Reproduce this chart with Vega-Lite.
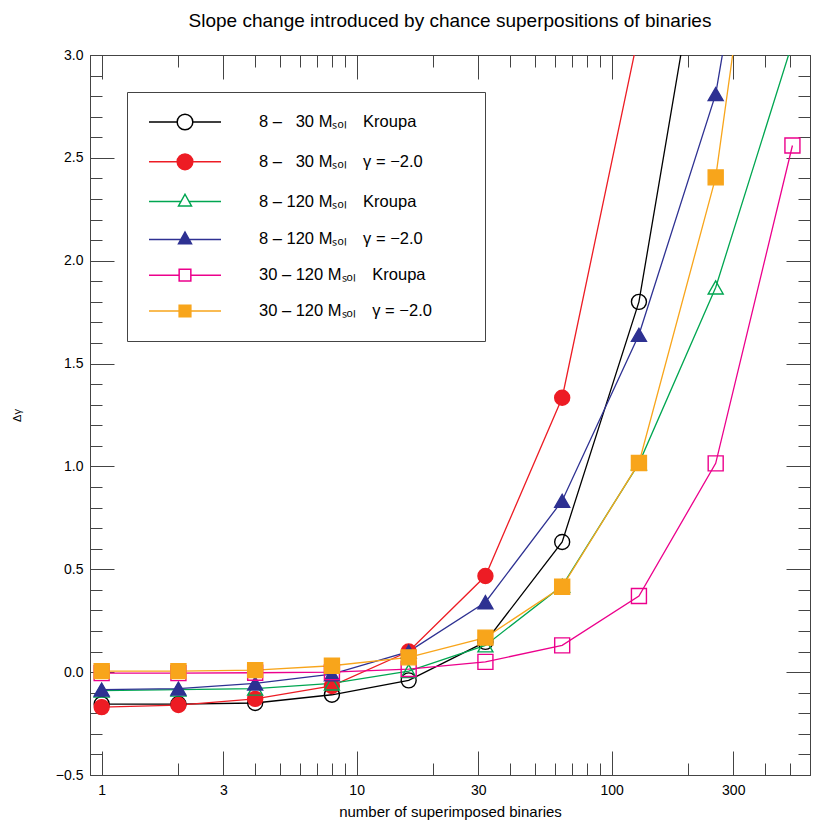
{
  "$schema": "https://vega.github.io/schema/vega-lite/v6.json",
  "width": 720,
  "height": 720,
  "autosize": "none",
  "padding": {"left": 90, "top": 55, "right": 20, "bottom": 55},
  "title": {"text": "Slope change introduced by chance superpositions of binaries", "font": "Liberation Sans", "fontSize": 19, "fontWeight": "normal", "color": "#000", "anchor": "middle", "frame": "group", "baseline": "alphabetic", "offset": 2},
  "config": {
    "view": {"stroke": null},
    "font": "Liberation Sans",
    "axis": {"domainColor": "#444", "tickColor": "#444", "labelColor": "#000", "titleColor": "#000", "grid": false, "labelFont": "Liberation Sans", "titleFont": "Liberation Sans", "titleFontWeight": "normal", "labelFlush": false, "labelOverlap": false, "tickWidth": 1, "domainWidth": 1}
  },
  "datasets": {
    "rows": [
      {"n": 1, "series": "\u20078 \u2013 \u200730 M\u209b\u2092\u2097\u2003Kroupa", "dg": -0.155},
      {"n": 2, "series": "\u20078 \u2013 \u200730 M\u209b\u2092\u2097\u2003Kroupa", "dg": -0.155},
      {"n": 4, "series": "\u20078 \u2013 \u200730 M\u209b\u2092\u2097\u2003Kroupa", "dg": -0.15},
      {"n": 8, "series": "\u20078 \u2013 \u200730 M\u209b\u2092\u2097\u2003Kroupa", "dg": -0.11},
      {"n": 16, "series": "\u20078 \u2013 \u200730 M\u209b\u2092\u2097\u2003Kroupa", "dg": -0.04},
      {"n": 32, "series": "\u20078 \u2013 \u200730 M\u209b\u2092\u2097\u2003Kroupa", "dg": 0.147},
      {"n": 64, "series": "\u20078 \u2013 \u200730 M\u209b\u2092\u2097\u2003Kroupa", "dg": 0.633},
      {"n": 128, "series": "\u20078 \u2013 \u200730 M\u209b\u2092\u2097\u2003Kroupa", "dg": 1.80},
      {"n": 256, "series": "\u20078 \u2013 \u200730 M\u209b\u2092\u2097\u2003Kroupa", "dg": 4.0},
      {"n": 1, "series": "\u20078 \u2013 \u200730 M\u209b\u2092\u2097\u2003\u03b3 = \u22122.0", "dg": -0.17},
      {"n": 2, "series": "\u20078 \u2013 \u200730 M\u209b\u2092\u2097\u2003\u03b3 = \u22122.0", "dg": -0.16},
      {"n": 4, "series": "\u20078 \u2013 \u200730 M\u209b\u2092\u2097\u2003\u03b3 = \u22122.0", "dg": -0.13},
      {"n": 8, "series": "\u20078 \u2013 \u200730 M\u209b\u2092\u2097\u2003\u03b3 = \u22122.0", "dg": -0.067},
      {"n": 16, "series": "\u20078 \u2013 \u200730 M\u209b\u2092\u2097\u2003\u03b3 = \u22122.0", "dg": 0.10},
      {"n": 32, "series": "\u20078 \u2013 \u200730 M\u209b\u2092\u2097\u2003\u03b3 = \u22122.0", "dg": 0.467},
      {"n": 64, "series": "\u20078 \u2013 \u200730 M\u209b\u2092\u2097\u2003\u03b3 = \u22122.0", "dg": 1.334},
      {"n": 128, "series": "\u20078 \u2013 \u200730 M\u209b\u2092\u2097\u2003\u03b3 = \u22122.0", "dg": 3.11},
      {"n": 1, "series": "\u20078 \u2013 120 M\u209b\u2092\u2097\u2003Kroupa", "dg": -0.09},
      {"n": 2, "series": "\u20078 \u2013 120 M\u209b\u2092\u2097\u2003Kroupa", "dg": -0.085},
      {"n": 4, "series": "\u20078 \u2013 120 M\u209b\u2092\u2097\u2003Kroupa", "dg": -0.08},
      {"n": 8, "series": "\u20078 \u2013 120 M\u209b\u2092\u2097\u2003Kroupa", "dg": -0.055},
      {"n": 16, "series": "\u20078 \u2013 120 M\u209b\u2092\u2097\u2003Kroupa", "dg": 0.005},
      {"n": 32, "series": "\u20078 \u2013 120 M\u209b\u2092\u2097\u2003Kroupa", "dg": 0.13},
      {"n": 64, "series": "\u20078 \u2013 120 M\u209b\u2092\u2097\u2003Kroupa", "dg": 0.42},
      {"n": 128, "series": "\u20078 \u2013 120 M\u209b\u2092\u2097\u2003Kroupa", "dg": 1.015},
      {"n": 256, "series": "\u20078 \u2013 120 M\u209b\u2092\u2097\u2003Kroupa", "dg": 1.87},
      {"n": 512, "series": "\u20078 \u2013 120 M\u209b\u2092\u2097\u2003Kroupa", "dg": 3.06},
      {"n": 1, "series": "\u20078 \u2013 120 M\u209b\u2092\u2097\u2003\u03b3 = \u22122.0", "dg": -0.085},
      {"n": 2, "series": "\u20078 \u2013 120 M\u209b\u2092\u2097\u2003\u03b3 = \u22122.0", "dg": -0.08},
      {"n": 4, "series": "\u20078 \u2013 120 M\u209b\u2092\u2097\u2003\u03b3 = \u22122.0", "dg": -0.055},
      {"n": 8, "series": "\u20078 \u2013 120 M\u209b\u2092\u2097\u2003\u03b3 = \u22122.0", "dg": -0.01},
      {"n": 16, "series": "\u20078 \u2013 120 M\u209b\u2092\u2097\u2003\u03b3 = \u22122.0", "dg": 0.10},
      {"n": 32, "series": "\u20078 \u2013 120 M\u209b\u2092\u2097\u2003\u03b3 = \u22122.0", "dg": 0.34},
      {"n": 64, "series": "\u20078 \u2013 120 M\u209b\u2092\u2097\u2003\u03b3 = \u22122.0", "dg": 0.833},
      {"n": 128, "series": "\u20078 \u2013 120 M\u209b\u2092\u2097\u2003\u03b3 = \u22122.0", "dg": 1.64},
      {"n": 256, "series": "\u20078 \u2013 120 M\u209b\u2092\u2097\u2003\u03b3 = \u22122.0", "dg": 2.81},
      {"n": 512, "series": "\u20078 \u2013 120 M\u209b\u2092\u2097\u2003\u03b3 = \u22122.0", "dg": 5.0},
      {"n": 1, "series": "30 \u2013 120 M\u209b\u2092\u2097\u2003Kroupa", "dg": -0.005},
      {"n": 2, "series": "30 \u2013 120 M\u209b\u2092\u2097\u2003Kroupa", "dg": -0.005},
      {"n": 4, "series": "30 \u2013 120 M\u209b\u2092\u2097\u2003Kroupa", "dg": -0.003},
      {"n": 8, "series": "30 \u2013 120 M\u209b\u2092\u2097\u2003Kroupa", "dg": 0.0},
      {"n": 16, "series": "30 \u2013 120 M\u209b\u2092\u2097\u2003Kroupa", "dg": 0.015},
      {"n": 32, "series": "30 \u2013 120 M\u209b\u2092\u2097\u2003Kroupa", "dg": 0.05},
      {"n": 64, "series": "30 \u2013 120 M\u209b\u2092\u2097\u2003Kroupa", "dg": 0.13},
      {"n": 128, "series": "30 \u2013 120 M\u209b\u2092\u2097\u2003Kroupa", "dg": 0.37},
      {"n": 256, "series": "30 \u2013 120 M\u209b\u2092\u2097\u2003Kroupa", "dg": 1.015},
      {"n": 512, "series": "30 \u2013 120 M\u209b\u2092\u2097\u2003Kroupa", "dg": 2.56},
      {"n": 1, "series": "30 \u2013 120 M\u209b\u2092\u2097\u2003\u03b3 = \u22122.0", "dg": 0.005},
      {"n": 2, "series": "30 \u2013 120 M\u209b\u2092\u2097\u2003\u03b3 = \u22122.0", "dg": 0.005},
      {"n": 4, "series": "30 \u2013 120 M\u209b\u2092\u2097\u2003\u03b3 = \u22122.0", "dg": 0.01},
      {"n": 8, "series": "30 \u2013 120 M\u209b\u2092\u2097\u2003\u03b3 = \u22122.0", "dg": 0.031},
      {"n": 16, "series": "30 \u2013 120 M\u209b\u2092\u2097\u2003\u03b3 = \u22122.0", "dg": 0.072},
      {"n": 32, "series": "30 \u2013 120 M\u209b\u2092\u2097\u2003\u03b3 = \u22122.0", "dg": 0.168},
      {"n": 64, "series": "30 \u2013 120 M\u209b\u2092\u2097\u2003\u03b3 = \u22122.0", "dg": 0.415},
      {"n": 128, "series": "30 \u2013 120 M\u209b\u2092\u2097\u2003\u03b3 = \u22122.0", "dg": 1.017},
      {"n": 256, "series": "30 \u2013 120 M\u209b\u2092\u2097\u2003\u03b3 = \u22122.0", "dg": 2.405},
      {"n": 512, "series": "30 \u2013 120 M\u209b\u2092\u2097\u2003\u03b3 = \u22122.0", "dg": 5.1}
    ]
  },
  "data": {"name": "rows"},
  "layer": [
    {
      "mark": {"type": "line", "clip": true, "strokeWidth": 1.3},
      "encoding": {
        "x": {"field": "n", "type": "quantitative", "scale": {"type": "log", "domain": [0.9, 600], "nice": false},
          "axis": {"orient": "bottom", "values": [1, 3, 10, 30, 100, 300], "format": "d", "tickSize": -24, "labelPadding": 32, "labelFontSize": 14, "title": "number of superimposed binaries", "titleFontSize": 15, "titlePadding": 7}},
        "y": {"field": "dg", "type": "quantitative", "scale": {"domain": [-0.5, 3.0], "nice": false, "zero": false},
          "axis": {"orient": "left", "values": [-0.5, 0, 0.5, 1, 1.5, 2, 2.5, 3], "format": ".1f", "tickSize": -24, "labelPadding": 31, "labelFontSize": 14, "title": "\u0394\u03b3", "titleFontSize": 11, "titlePadding": 33}},
        "stroke": {"field": "series", "type": "nominal", "legend": null,
          "scale": {"domain": ["\u20078 \u2013 \u200730 M\u209b\u2092\u2097\u2003Kroupa", "\u20078 \u2013 \u200730 M\u209b\u2092\u2097\u2003\u03b3 = \u22122.0", "\u20078 \u2013 120 M\u209b\u2092\u2097\u2003Kroupa", "\u20078 \u2013 120 M\u209b\u2092\u2097\u2003\u03b3 = \u22122.0", "30 \u2013 120 M\u209b\u2092\u2097\u2003Kroupa", "30 \u2013 120 M\u209b\u2092\u2097\u2003\u03b3 = \u22122.0"],
            "range": ["#000000", "#ED1C24", "#00A651", "#2E3192", "#EC008C", "#F8A51B"]}}
      }
    },
    {
      "mark": {"type": "point", "clip": true, "strokeWidth": 1.4, "opacity": 1},
      "encoding": {
        "x": {"field": "n", "type": "quantitative", "scale": {"type": "log", "domain": [0.9, 600], "nice": false},
          "axis": {"orient": "top", "values": [1, 3, 10, 30, 100, 300], "labels": false, "tickSize": -24, "title": null}},
        "y": {"field": "dg", "type": "quantitative", "scale": {"domain": [-0.5, 3.0], "nice": false, "zero": false},
          "axis": {"orient": "right", "values": [-0.5, 0, 0.5, 1, 1.5, 2, 2.5, 3], "labels": false, "tickSize": -24, "title": null}},
        "stroke": {"field": "series", "type": "nominal", "legend": null,
          "scale": {"domain": ["\u20078 \u2013 \u200730 M\u209b\u2092\u2097\u2003Kroupa", "\u20078 \u2013 \u200730 M\u209b\u2092\u2097\u2003\u03b3 = \u22122.0", "\u20078 \u2013 120 M\u209b\u2092\u2097\u2003Kroupa", "\u20078 \u2013 120 M\u209b\u2092\u2097\u2003\u03b3 = \u22122.0", "30 \u2013 120 M\u209b\u2092\u2097\u2003Kroupa", "30 \u2013 120 M\u209b\u2092\u2097\u2003\u03b3 = \u22122.0"],
            "range": ["#000000", "#ED1C24", "#00A651", "#2E3192", "#EC008C", "#F8A51B"]}},
        "fill": {"field": "series", "type": "nominal", "legend": null,
          "scale": {"domain": ["\u20078 \u2013 \u200730 M\u209b\u2092\u2097\u2003Kroupa", "\u20078 \u2013 \u200730 M\u209b\u2092\u2097\u2003\u03b3 = \u22122.0", "\u20078 \u2013 120 M\u209b\u2092\u2097\u2003Kroupa", "\u20078 \u2013 120 M\u209b\u2092\u2097\u2003\u03b3 = \u22122.0", "30 \u2013 120 M\u209b\u2092\u2097\u2003Kroupa", "30 \u2013 120 M\u209b\u2092\u2097\u2003\u03b3 = \u22122.0"],
            "range": ["transparent", "#ED1C24", "transparent", "#2E3192", "transparent", "#F8A51B"]}},
        "shape": {"field": "series", "type": "nominal", "legend": null,
          "scale": {"domain": ["\u20078 \u2013 \u200730 M\u209b\u2092\u2097\u2003Kroupa", "\u20078 \u2013 \u200730 M\u209b\u2092\u2097\u2003\u03b3 = \u22122.0", "\u20078 \u2013 120 M\u209b\u2092\u2097\u2003Kroupa", "\u20078 \u2013 120 M\u209b\u2092\u2097\u2003\u03b3 = \u22122.0", "30 \u2013 120 M\u209b\u2092\u2097\u2003Kroupa", "30 \u2013 120 M\u209b\u2092\u2097\u2003\u03b3 = \u22122.0"],
            "range": ["circle", "circle", "triangle-up", "triangle-up", "square", "square"]}},
        "size": {"field": "series", "type": "nominal", "legend": null,
          "scale": {"domain": ["\u20078 \u2013 \u200730 M\u209b\u2092\u2097\u2003Kroupa", "\u20078 \u2013 \u200730 M\u209b\u2092\u2097\u2003\u03b3 = \u22122.0", "\u20078 \u2013 120 M\u209b\u2092\u2097\u2003Kroupa", "\u20078 \u2013 120 M\u209b\u2092\u2097\u2003\u03b3 = \u22122.0", "30 \u2013 120 M\u209b\u2092\u2097\u2003Kroupa", "30 \u2013 120 M\u209b\u2092\u2097\u2003\u03b3 = \u22122.0"],
            "range": [225, 225, 196, 196, 125, 125]}}
      }
    },
    {
      "transform": [{"filter": "false"}],
      "mark": {"type": "point", "size": 256, "strokeWidth": 1.5, "opacity": 1},
      "encoding": {
        "x": {"field": "n", "type": "quantitative", "scale": {"type": "log", "domain": [0.9, 600], "nice": false},
          "axis": {"orient": "bottom", "values": [2, 4, 5, 6, 7, 8, 9, 20, 40, 50, 60, 70, 80, 90, 200, 400, 500], "labels": false, "tickSize": -12, "title": null}},
        "y": {"field": "dg", "type": "quantitative", "scale": {"domain": [-0.5, 3.0], "nice": false, "zero": false},
          "axis": {"orient": "left", "values": [-0.4, -0.3, -0.2, -0.1, 0.1, 0.2, 0.3, 0.4, 0.6, 0.7, 0.8, 0.9, 1.1, 1.2, 1.3, 1.4, 1.6, 1.7, 1.8, 1.9, 2.1, 2.2, 2.3, 2.4, 2.6, 2.7, 2.8, 2.9], "labels": false, "tickSize": -12, "title": null}},
        "stroke": {"field": "series", "type": "nominal",
          "legend": {"orient": "none", "legendX": 37, "legendY": 37, "title": "M", "titleOrient": "right", "titleOpacity": 0, "titleFontSize": 12, "titlePadding": 22, "padding": 21, "strokeColor": "#444", "fillColor": "#ffffff", "symbolSize": 256, "symbolStrokeWidth": 1.5, "symbolOffset": 28, "labelOffset": 65, "labelFontSize": 16.5, "labelFont": "Liberation Sans", "labelColor": "#000", "labelLimit": 700, "rowPadding": 17.8},
          "scale": {"domain": ["\u20078 \u2013 \u200730 M\u209b\u2092\u2097\u2003Kroupa", "\u20078 \u2013 \u200730 M\u209b\u2092\u2097\u2003\u03b3 = \u22122.0", "\u20078 \u2013 120 M\u209b\u2092\u2097\u2003Kroupa", "\u20078 \u2013 120 M\u209b\u2092\u2097\u2003\u03b3 = \u22122.0", "30 \u2013 120 M\u209b\u2092\u2097\u2003Kroupa", "30 \u2013 120 M\u209b\u2092\u2097\u2003\u03b3 = \u22122.0"],
            "range": ["#000000", "#ED1C24", "#00A651", "#2E3192", "#EC008C", "#F8A51B"]}},
        "fill": {"field": "series", "type": "nominal",
          "legend": {"orient": "none", "legendX": 37, "legendY": 37, "title": "M", "titleOrient": "right", "titleOpacity": 0, "titleFontSize": 12, "titlePadding": 22, "padding": 21, "strokeColor": "#444", "fillColor": "#ffffff", "symbolSize": 256, "symbolStrokeWidth": 1.5, "symbolOffset": 28, "labelOffset": 65, "labelFontSize": 16.5, "labelFont": "Liberation Sans", "labelColor": "#000", "labelLimit": 700, "rowPadding": 17.8},
          "scale": {"domain": ["\u20078 \u2013 \u200730 M\u209b\u2092\u2097\u2003Kroupa", "\u20078 \u2013 \u200730 M\u209b\u2092\u2097\u2003\u03b3 = \u22122.0", "\u20078 \u2013 120 M\u209b\u2092\u2097\u2003Kroupa", "\u20078 \u2013 120 M\u209b\u2092\u2097\u2003\u03b3 = \u22122.0", "30 \u2013 120 M\u209b\u2092\u2097\u2003Kroupa", "30 \u2013 120 M\u209b\u2092\u2097\u2003\u03b3 = \u22122.0"],
            "range": ["#ffffff", "#ED1C24", "#ffffff", "#2E3192", "#ffffff", "#F8A51B"]}},
        "shape": {"field": "series", "type": "nominal",
          "legend": {"orient": "none", "legendX": 37, "legendY": 37, "title": "M", "titleOrient": "right", "titleOpacity": 0, "titleFontSize": 12, "titlePadding": 22, "padding": 21, "strokeColor": "#444", "fillColor": "#ffffff", "symbolSize": 256, "symbolStrokeWidth": 1.5, "symbolOffset": 28, "labelOffset": 65, "labelFontSize": 16.5, "labelFont": "Liberation Sans", "labelColor": "#000", "labelLimit": 700, "rowPadding": 17.8},
          "scale": {"domain": ["\u20078 \u2013 \u200730 M\u209b\u2092\u2097\u2003Kroupa", "\u20078 \u2013 \u200730 M\u209b\u2092\u2097\u2003\u03b3 = \u22122.0", "\u20078 \u2013 120 M\u209b\u2092\u2097\u2003Kroupa", "\u20078 \u2013 120 M\u209b\u2092\u2097\u2003\u03b3 = \u22122.0", "30 \u2013 120 M\u209b\u2092\u2097\u2003Kroupa", "30 \u2013 120 M\u209b\u2092\u2097\u2003\u03b3 = \u22122.0"],
            "range": [
              "M-4.5,0H-0.98M0.98,0H4.5M0.98,0A0.98,0.98,0,1,1,-0.98,0A0.98,0.98,0,1,1,0.98,0Z",
              "M-4.5,0H-0.98M0.98,0H4.5M0.98,0A0.98,0.98,0,1,1,-0.98,0A0.98,0.98,0,1,1,0.98,0Z",
              "M-4.5,0H-0.51M0.51,0H4.5M0,-0.92L0.81,0.54L-0.81,0.54Z",
              "M-4.5,0H-0.51M0.51,0H4.5M0,-0.92L0.81,0.54L-0.81,0.54Z",
              "M-4.5,0H-0.73M0.73,0H4.5M-0.73,-0.73H0.73V0.73H-0.73Z",
              "M-4.5,0H-0.73M0.73,0H4.5M-0.73,-0.73H0.73V0.73H-0.73Z"
            ]}}
      }
    },
    {
      "transform": [{"filter": "false"}],
      "mark": {"type": "point"},
      "encoding": {
        "x": {"field": "n", "type": "quantitative", "scale": {"type": "log", "domain": [0.9, 600], "nice": false},
          "axis": {"orient": "top", "values": [2, 4, 5, 6, 7, 8, 9, 20, 40, 50, 60, 70, 80, 90, 200, 400, 500], "labels": false, "tickSize": -12, "title": null}},
        "y": {"field": "dg", "type": "quantitative", "scale": {"domain": [-0.5, 3.0], "nice": false, "zero": false},
          "axis": {"orient": "right", "values": [-0.4, -0.3, -0.2, -0.1, 0.1, 0.2, 0.3, 0.4, 0.6, 0.7, 0.8, 0.9, 1.1, 1.2, 1.3, 1.4, 1.6, 1.7, 1.8, 1.9, 2.1, 2.2, 2.3, 2.4, 2.6, 2.7, 2.8, 2.9], "labels": false, "tickSize": -12, "title": null}}
      }
    }
  ],
  "resolve": {
    "scale": {"stroke": "independent", "fill": "independent", "shape": "independent", "size": "independent"},
    "axis": {"x": "independent", "y": "independent"}
  }
}
